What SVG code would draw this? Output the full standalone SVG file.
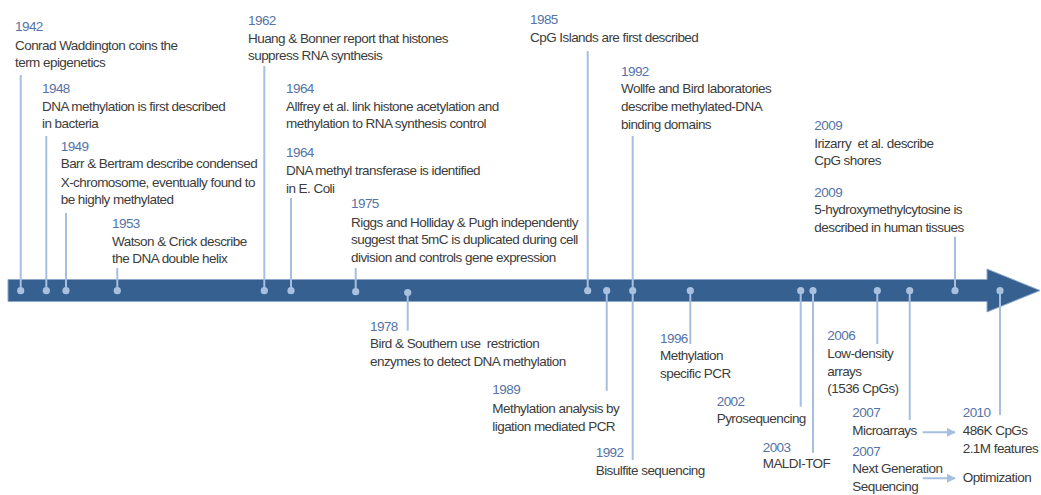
<svg xmlns="http://www.w3.org/2000/svg" width="1041" height="495" viewBox="0 0 1041 495">
<style>
text{font-family:"Liberation Sans",Arial,sans-serif;font-size:13.5px;letter-spacing:-0.55px;fill:#3c3c3c;white-space:pre}
.yr{fill:#5573a6}
.tick{stroke:#a6bedf;stroke-width:2;fill:none}
.dot{fill:#a9c0df}
.link{stroke:#a6bedf;stroke-width:2;fill:none;marker-end:url(#ah)}
</style>
<defs>
<marker id="ah" viewBox="0 0 10 10" refX="9" refY="5" markerWidth="4.5" markerHeight="4.5" orient="auto" markerUnits="strokeWidth">
<path d="M0,0 L10,5 L0,10 z" fill="#a6bedf"/>
</marker>
</defs>
<g id="timeline">
<path d="M8,279.5 H987 V269 L1040,290.5 L987,312 V301.5 H8 Z" fill="#36608f" stroke="#8ea8cb" stroke-width="1"/>
</g>
<g id="connectors">
<line class="tick" x1="20.7" y1="75" x2="20.7" y2="290"/>
<line class="tick" x1="46.3" y1="136" x2="46.3" y2="290"/>
<line class="tick" x1="66" y1="213" x2="66" y2="290"/>
<line class="tick" x1="117.3" y1="268" x2="117.3" y2="290"/>
<line class="tick" x1="264.3" y1="66" x2="264.3" y2="290"/>
<line class="tick" x1="291" y1="198" x2="291" y2="290"/>
<line class="tick" x1="355.7" y1="268" x2="355.7" y2="291"/>
<line class="tick" x1="587.7" y1="51" x2="587.7" y2="290"/>
<line class="tick" x1="632.7" y1="136" x2="632.7" y2="460"/>
<line class="tick" x1="955" y1="236.7" x2="955" y2="291"/>
<line class="tick" x1="407.7" y1="292" x2="407.7" y2="330.7"/>
<line class="tick" x1="606.7" y1="291" x2="606.7" y2="390.7"/>
<line class="tick" x1="690.3" y1="291" x2="690.3" y2="344"/>
<line class="tick" x1="800.7" y1="291" x2="800.7" y2="406.7"/>
<line class="tick" x1="813" y1="291" x2="813" y2="452.7"/>
<line class="tick" x1="877.3" y1="291" x2="877.3" y2="344"/>
<line class="tick" x1="909.7" y1="291" x2="909.7" y2="420"/>
<line class="tick" x1="1000" y1="291" x2="1000" y2="415"/>
<circle class="dot" cx="20.7" cy="290.7" r="3.6"/>
<circle class="dot" cx="46.3" cy="290.7" r="3.6"/>
<circle class="dot" cx="66" cy="290.7" r="3.6"/>
<circle class="dot" cx="117.3" cy="290.7" r="3.6"/>
<circle class="dot" cx="264.3" cy="290.7" r="3.6"/>
<circle class="dot" cx="291" cy="290.7" r="3.6"/>
<circle class="dot" cx="355.7" cy="291.7" r="3.6"/>
<circle class="dot" cx="407.7" cy="292.5" r="3.6"/>
<circle class="dot" cx="587.7" cy="290.7" r="3.6"/>
<circle class="dot" cx="606.7" cy="290.7" r="3.6"/>
<circle class="dot" cx="632.7" cy="290.7" r="3.6"/>
<circle class="dot" cx="690.3" cy="290.7" r="3.6"/>
<circle class="dot" cx="800.7" cy="290.7" r="3.6"/>
<circle class="dot" cx="813" cy="290.7" r="3.6"/>
<circle class="dot" cx="877.3" cy="290.7" r="3.6"/>
<circle class="dot" cx="909.7" cy="290.7" r="3.6"/>
<circle class="dot" cx="955" cy="290.7" r="3.6"/>
<circle class="dot" cx="1000" cy="290.7" r="3.6"/>
<line class="link" x1="922.7" y1="432.3" x2="955" y2="432.3"/>
<line class="link" x1="922.7" y1="478.3" x2="955" y2="478.3"/>
</g>
<g id="e1942"><text class="yr" x="15" y="31">1942</text><text x="15" y="49.5">Conrad Waddington coins the</text><text x="15" y="67">term epigenetics</text></g>
<g id="e1948"><text class="yr" x="42" y="92.7">1948</text><text x="42" y="110.7">DNA methylation is first described</text><text x="42" y="128.3">in bacteria</text></g>
<g id="e1949"><text class="yr" x="60.7" y="150.5">1949</text><text x="60.7" y="168.3">Barr &amp; Bertram describe condensed</text><text x="60.7" y="186.5">X-chromosome, eventually found to</text><text x="60.7" y="204.3">be highly methylated</text></g>
<g id="e1953"><text class="yr" x="112" y="227.7">1953</text><text x="112" y="245.7">Watson &amp; Crick describe</text><text x="112" y="263.3">the DNA double helix</text></g>
<g id="e1962"><text class="yr" x="248" y="25">1962</text><text x="248" y="42.5">Huang &amp; Bonner report that histones</text><text x="248" y="60">suppress RNA synthesis</text></g>
<g id="e1964a"><text class="yr" x="286" y="92.7">1964</text><text x="286" y="110.7">Allfrey et al. link histone acetylation and</text><text x="286" y="128.3">methylation to RNA synthesis control</text></g>
<g id="e1964b"><text class="yr" x="286" y="157.3">1964</text><text x="286" y="175">DNA methyl transferase is identified</text><text x="286" y="192.7">in E. Coli</text></g>
<g id="e1975"><text class="yr" x="351" y="208.3">1975</text><text x="351" y="226.7">Riggs and Holliday &amp; Pugh independently</text><text x="351" y="244.3">suggest that 5mC is duplicated during cell</text><text x="351" y="262.3">division and controls gene expression</text></g>
<g id="e1985"><text class="yr" x="530" y="24.3">1985</text><text x="530" y="41.7">CpG Islands are first described</text></g>
<g id="e1992a"><text class="yr" x="621" y="75.7">1992</text><text x="621" y="93.3">Wollfe and Bird laboratories</text><text x="621" y="111">describe methylated-DNA</text><text x="621" y="129">binding domains</text></g>
<g id="e2009a"><text class="yr" x="814.3" y="130">2009</text><text x="814.3" y="147.7">Irizarry  et al. describe</text><text x="814.3" y="165">CpG shores</text></g>
<g id="e2009b"><text class="yr" x="814.3" y="196.7">2009</text><text x="814.3" y="214.3">5-hydroxymethylcytosine is</text><text x="814.3" y="232.3">described in human tissues</text></g>
<g id="e1978"><text class="yr" x="370" y="330.7">1978</text><text x="370" y="348.3">Bird &amp; Southern use  restriction</text><text x="370" y="366">enzymes to detect DNA methylation</text></g>
<g id="e1989"><text class="yr" x="492.3" y="394">1989</text><text x="492.3" y="412.7">Methylation analysis by</text><text x="492.3" y="430.7">ligation mediated PCR</text></g>
<g id="e1992b"><text class="yr" x="595.7" y="457.3">1992</text><text x="595.7" y="475">Bisulfite sequencing</text></g>
<g id="e1996"><text class="yr" x="660" y="342.7">1996</text><text x="660" y="360">Methylation</text><text x="660" y="378.3">specific PCR</text></g>
<g id="e2002"><text class="yr" x="716.7" y="406">2002</text><text x="716.7" y="423.3">Pyrosequencing</text></g>
<g id="e2003"><text class="yr" x="762.7" y="451.7">2003</text><text x="762.7" y="468.3">MALDI-TOF</text></g>
<g id="e2006"><text class="yr" x="827.3" y="340">2006</text><text x="827.3" y="358.3">Low-density</text><text x="827.3" y="376">arrays</text><text x="827.3" y="393.3">(1536 CpGs)</text></g>
<g id="e2007a"><text class="yr" x="852.3" y="416.7">2007</text><text x="852.3" y="435">Microarrays</text></g>
<g id="e2007b"><text class="yr" x="852.3" y="456">2007</text><text x="852.3" y="473.3">Next Generation</text><text x="852.3" y="491">Sequencing</text></g>
<g id="e2010"><text class="yr" x="962.7" y="416.7">2010</text><text x="962.7" y="435">486K CpGs</text><text x="962.7" y="453.3">2.1M features</text></g>
<g id="eopt"><text x="962.7" y="481.7">Optimization</text></g>
</svg>
